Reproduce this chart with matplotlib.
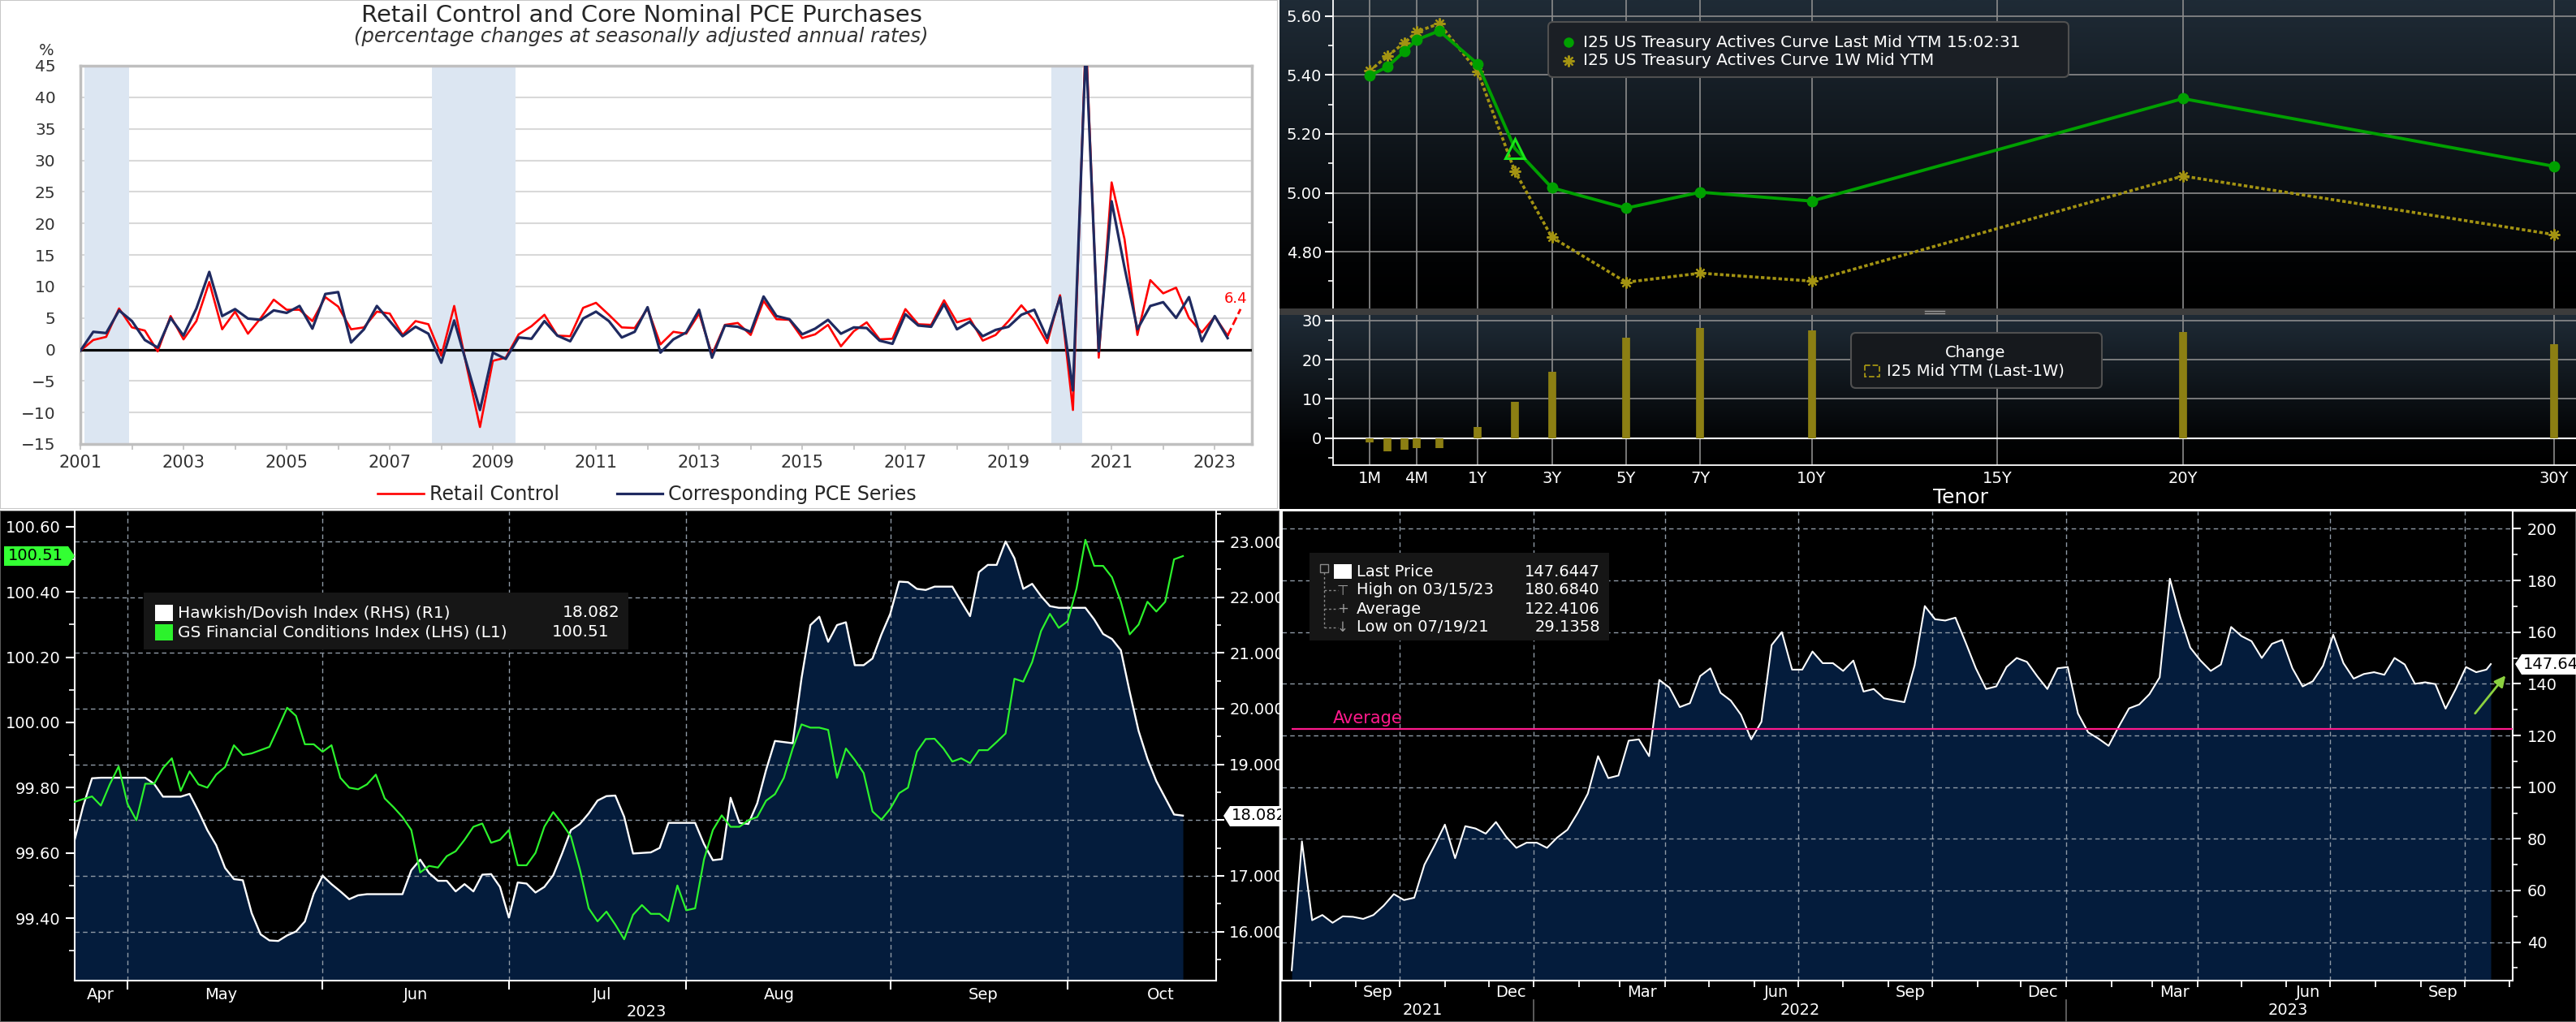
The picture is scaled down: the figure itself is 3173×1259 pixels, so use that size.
import numpy as np
import pandas as pd
import matplotlib
matplotlib.use('Agg')
import matplotlib.pyplot as plt
from matplotlib.patches import Rectangle, FancyBboxPatch, Polygon, FancyArrowPatch
from matplotlib.lines import Line2D
from matplotlib.ticker import MultipleLocator, FixedLocator, FormatStrFormatter, FuncFormatter
from matplotlib.colors import LinearSegmentedColormap
from matplotlib.transforms import Affine2D, blended_transform_factory

plt.rcParams['font.family'] = ['DejaVu Sans']

W, H = 3173, 1259

# ---- retail control vs core nominal PCE, quarterly % saar, 2001Q1..2023Q2
retail_control = [
    -0.2, 1.5, 2.0, 6.5, 3.5, 3.0, -0.3, 5.3, 1.6, 4.5,
    10.7, 3.2, 6.0, 2.5, 5.0, 7.9, 6.3, 6.3, 4.5, 8.3,
    6.8, 3.2, 3.5, 6.0, 5.7, 2.3, 4.5, 4.0, -1.0, 6.9,
    -3.0, -12.3, -1.8, -1.3, 2.4, 3.7, 5.5, 2.2, 2.1, 6.6,
    7.4, 5.5, 3.5, 3.4, 6.5, 0.8, 2.8, 2.5, 5.7, -0.8,
    3.9, 4.2, 2.3, 7.7, 4.8, 4.7, 1.8, 2.4, 3.9, 0.5,
    2.9, 4.3, 1.6, 1.7, 6.4, 4.0, 3.9, 7.8, 4.3, 4.9,
    1.4, 2.3, 4.5, 7.0, 4.6, 1.0, 8.6, -9.6, 50.0, -1.3,
    26.5, 17.5, 2.3, 11.0, 8.9, 9.8, 5.0, 2.7, 5.2, 2.2]
pce_series = [
    -0.2, 2.8, 2.6, 6.2, 4.5, 1.5, 0.3, 5.0, 2.2, 6.5,
    12.3, 5.3, 6.4, 4.9, 4.7, 6.2, 5.8, 6.9, 3.3, 8.8,
    9.1, 1.1, 3.2, 6.9, 4.5, 2.1, 3.6, 2.5, -2.1, 4.6,
    -2.5, -9.6, -0.5, -1.5, 1.9, 1.7, 4.5, 2.2, 1.3, 4.9,
    6.0, 4.5, 1.9, 2.8, 6.7, -0.5, 1.6, 2.7, 6.3, -1.3,
    3.8, 3.6, 2.8, 8.4, 5.3, 4.8, 2.4, 3.3, 4.7, 2.5,
    3.5, 3.4, 1.4, 0.9, 5.6, 3.8, 3.6, 7.2, 3.2, 4.4,
    2.1, 3.1, 3.6, 5.5, 6.3, 1.8, 8.3, -6.5, 48.0, -0.3,
    23.5, 13.0, 3.2, 6.9, 7.5, 5.0, 8.3, 1.3, 5.3, 1.8]
retail_q3_est = 6.4
recessions = [(2001.08, 2001.94), (2007.82, 2009.44), (2019.83, 2020.43)]

# ---- treasury actives curve
tenor_years = [1/12, 2/12, 3/12, 4/12, 6/12, 1, 2, 3, 5, 7, 10, 20, 30]
ytm_last = [5.398, 5.428, 5.480, 5.520, 5.550, 5.438, 5.151, 5.017, 4.948, 5.002, 4.972, 5.320, 5.090]
ytm_1w = [5.414, 5.465, 5.509, 5.547, 5.575, 5.412, 5.074, 4.849, 4.696, 4.727, 4.700, 5.057, 4.858]
change_bp = [-1.1, -3.5, -3.0, -2.5, -2.5, 2.9, 9.2, 17.0, 25.6, 28.2, 27.6, 27.0, 23.9]
tenor_ticks = [1/12, 4/12, 1, 3, 5, 7, 10, 15, 20, 30]
tenor_tick_labels = ['1M', '4M', '1Y', '3Y', '5Y', '7Y', '10Y', '15Y', '20Y', '30Y']
# bloomberg stretches the short end of the tenor axis
tenor_nodes = [0, 1/12, 2/12, 3/12, 4/12, 6/12, 1, 40]
tenor_axis_pos = [-3.2, -1.91, -1.43, -0.98, -0.64, -0.035, 1, 40]

# ---- hawkish/dovish index vs GS FCI, daily 2023-04-21..2023-10-19
hawk_dove = [
    17.62, 18.25, 18.75, 18.76, 18.76, 18.76, 18.76, 18.76, 18.76, 18.65,
    18.42, 18.42, 18.42, 18.47, 18.16, 17.82, 17.55, 17.14, 16.94, 16.92,
    16.33, 15.95, 15.84, 15.83, 15.93, 16.00, 16.18, 16.68, 17.00, 16.85,
    16.72, 16.58, 16.65, 16.67, 16.67, 16.67, 16.67, 16.67, 17.10, 17.29,
    17.05, 16.91, 16.91, 16.72, 16.85, 16.72, 17.02, 17.03, 16.80, 16.25,
    16.88, 16.86, 16.70, 16.80, 17.01, 17.40, 17.82, 17.93, 18.12, 18.35,
    18.43, 18.44, 18.06, 17.40, 17.41, 17.42, 17.50, 17.95, 17.95, 17.95,
    17.95, 17.57, 17.28, 17.30, 18.40, 17.95, 17.93, 18.30, 18.90, 19.42,
    19.40, 19.38, 20.55, 21.50, 21.65, 21.20, 21.50, 21.55, 20.78, 20.78,
    20.90, 21.33, 21.70, 22.28, 22.27, 22.15, 22.13, 22.19, 22.19, 22.19,
    21.92, 21.66, 22.45, 22.58, 22.58, 23.00, 22.70, 22.15, 22.24, 22.02,
    21.84, 21.81, 21.81, 21.81, 21.81, 21.60, 21.34, 21.25, 21.05, 20.30,
    19.60, 19.10, 18.70, 18.40, 18.10, 18.08]
hawk_dove_last = 18.082
gs_fci = [
    99.756, 99.765, 99.773, 99.745, 99.810, 99.865, 99.750, 99.700, 99.812, 99.812,
    99.860, 99.890, 99.790, 99.850, 99.810, 99.800, 99.840, 99.863, 99.930, 99.900,
    99.905, 99.915, 99.925, 99.984, 100.045, 100.020, 99.933, 99.933, 99.910, 99.930,
    99.830, 99.800, 99.795, 99.810, 99.840, 99.767, 99.740, 99.710, 99.670, 99.540,
    99.560, 99.555, 99.590, 99.605, 99.640, 99.680, 99.690, 99.631, 99.640, 99.670,
    99.562, 99.562, 99.600, 99.680, 99.725, 99.690, 99.650, 99.550, 99.430, 99.390,
    99.420, 99.380, 99.335, 99.410, 99.440, 99.413, 99.413, 99.390, 99.500, 99.424,
    99.430, 99.580, 99.670, 99.715, 99.680, 99.680, 99.700, 99.710, 99.760, 99.780,
    99.830, 99.920, 99.994, 99.984, 99.984, 99.977, 99.830, 99.920, 99.885, 99.845,
    99.727, 99.702, 99.735, 99.783, 99.800, 99.910, 99.949, 99.950, 99.920, 99.880,
    99.890, 99.875, 99.915, 99.915, 99.940, 99.966, 100.134, 100.125, 100.185, 100.280,
    100.333, 100.290, 100.310, 100.410, 100.560, 100.480, 100.480, 100.445, 100.370, 100.270,
    100.300, 100.370, 100.340, 100.370, 100.500, 100.510]
market_holidays = ['2023-05-29', '2023-06-19', '2023-07-04', '2023-09-04']

# ---- index level, weekly from 2021-07-19, last print 2023-10-19
idx_level = [
    29.1, 79.0, 48.5, 50.5, 47.5, 50.0, 49.8, 49.0, 50.5, 54.1,
    58.6, 56.3, 57.2, 70.0, 77.5, 85.5, 72.5, 84.9, 84.0, 82.0,
    86.5, 80.8, 76.5, 78.5, 78.5, 76.5, 80.5, 83.5, 90.0, 97.5,
    112.0, 103.5, 104.5, 118.0, 118.5, 112.0, 141.5, 138.5, 131.0, 132.5,
    143.0, 146.0, 136.5, 133.5, 128.0, 118.5, 125.3, 155.0, 160.0, 145.5,
    145.5, 152.5, 148.0, 148.0, 145.0, 149.0, 137.0, 138.0, 134.4, 133.6,
    132.9, 147.1, 170.1, 165.0, 164.5, 165.6, 156.0, 146.0, 138.0, 139.0,
    146.5, 150.0, 148.5, 143.0, 138.0, 146.0, 146.5, 128.5, 121.2, 118.8,
    116.0, 123.5, 130.5, 132.0, 136.0, 142.5, 180.7, 166.0, 154.0, 149.0,
    145.0, 147.5, 162.0, 158.5, 156.5, 150.0, 155.5, 157.0, 146.0, 139.0,
    141.0, 147.0, 159.0, 148.0, 142.0, 143.8, 144.5, 143.5, 150.0, 147.5,
    140.0, 140.6, 139.9, 130.4, 138.0, 146.5, 144.5, 145.5]
idx_last = 147.6447
idx_high = 180.6840
idx_avg = 122.4106
idx_low = 29.1358

fig = plt.figure(figsize=(W / 100, H / 100), dpi=100, facecolor='white')
# pixel coords, origin top-left
PX = Affine2D().scale(0.01, -0.01).translate(0, H / 100) + fig.dpi_scale_trans


def rect(l, t, r, b):
    return [l / W, 1 - b / H, (r - l) / W, (b - t) / H]


def panel(l, t, r, b, color, edge=None):
    a = fig.add_axes(rect(l, t, r, b))
    a.set_axis_off()
    a.add_patch(Rectangle((0, 0), 1, 1, transform=a.transAxes, facecolor=color,
                          edgecolor=edge or color, lw=1.5))
    return a


def ptext(x, y, s, **kw):
    kw.setdefault('va', 'center')
    return fig.text(x, y, s, transform=PX, **kw)


# ================= top left: retail control =================
panel(0, 0, 1574, 627, 'white', edge='#c8c8c8')
ax1 = fig.add_axes(rect(99, 81, 1542, 547))
q = pd.period_range('2001Q1', periods=len(pce_series), freq='Q')
qx = np.asarray(q.year + (q.quarter - 1) / 4.0)

for s, e in recessions:
    ax1.axvspan(s, e, color='#dce6f2', lw=0, zorder=1)
ax1.set_yticks(np.arange(-15, 46, 5))
ax1.grid(axis='y', color='#d9d9d9', lw=1.5)
ax1.set_axisbelow(True)
ax1.axhline(0, color='black', lw=2.3, zorder=3)
ax1.plot(qx, retail_control, color='#ff0000', lw=1.9, zorder=4, label='Retail Control')
ax1.plot(qx, pce_series, color='#1f2a60', lw=2.3, zorder=5, label='Corresponding PCE Series')
ax1.plot([qx[-1], qx[-1] + 0.25], [retail_control[-1], retail_q3_est],
         color='#ff0000', lw=2, ls='--', zorder=4)
ax1.text(qx[-1] + 0.15, retail_q3_est + 1.6, f'{retail_q3_est}', color='#ff0000',
         ha='center', va='center', fontsize=13)
ax1.set_xlim(2001, 2023.72)
ax1.set_ylim(-15, 45)
years = np.arange(2001, 2024)
ax1.set_xticks(years)
ax1.set_xticklabels([str(y) if y % 2 else '' for y in years])
for s in ax1.spines.values():
    s.set_color('#bfbfbf')
    s.set_linewidth(2.5)
ax1.tick_params(axis='x', length=5, width=1.2, color='#bfbfbf', labelsize=15,
                labelcolor='#333333', pad=4)
ax1.tick_params(axis='y', length=0, labelsize=14.5, labelcolor='#333333', pad=22)

ptext(790, 19, 'Retail Control and Core Nominal PCE Purchases', ha='center',
      fontsize=21, color='#262626')
ptext(790, 45, '(percentage changes at seasonally adjusted annual rates)', ha='center',
      fontsize=17.5, style='italic', color='#333333')
ptext(57, 62, '%', ha='center', fontsize=14, color='#333333')
fig.legend(*ax1.get_legend_handles_labels(), loc='center',
           bbox_to_anchor=(797 / W, 1 - 609 / H), ncol=2, frameon=False, fontsize=17,
           handlelength=2.4, handletextpad=0.3, columnspacing=3.0, labelcolor='#262626')

# ================= top right: treasury curve =================
panel(1576, 0, 3173, 627, 'black')
grad = np.linspace(0, 1, 256).reshape(-1, 1)
bb_cmap = LinearSegmentedColormap.from_list(
    'bb', [(0, '#000000'), (0.15, '#020304'), (1, '#1f2b36')])
for t, b in [(0, 380), (388, 573)]:
    g = fig.add_axes(rect(1576, t, 3173, b))
    g.set_axis_off()
    g.imshow(grad, cmap=bb_cmap, origin='lower', extent=(0, 1, 0, 1), aspect='auto')


def tenor_fwd(t):
    return np.interp(t, tenor_nodes, tenor_axis_pos)


def tenor_inv(p):
    return np.interp(p, tenor_axis_pos, tenor_nodes)


axu = fig.add_axes(rect(1642, 0, 3173, 380))
axl = fig.add_axes(rect(1642, 388, 3173, 573))
for a in (axu, axl):
    a.set_facecolor('none')
    a.set_xscale('function', functions=(tenor_fwd, tenor_inv))
    a.set_xlim(0.0197, 30.59)
    a.set_xticks(tenor_ticks)
    a.grid(True, which='major', color='#8c8c8c', lw=1.2)
    for k in ('top', 'right'):
        a.spines[k].set_visible(False)
    a.spines['left'].set_color('white')
    a.spines['left'].set_linewidth(1.3)
    a.tick_params(axis='y', which='major', colors='white', labelsize=14, length=7,
                  width=1.5, pad=3)
    a.tick_params(axis='y', which='minor', colors='white', length=4, width=1.2)

axu.spines['bottom'].set_visible(False)
axu.plot(tenor_years, ytm_1w, color='#a39312', ls=(0, (1.2, 0.8)), lw=2.6,
         marker=(8, 2, 0), ms=10, mew=1.6, zorder=3)
axu.plot(tenor_years, ytm_last, color='#00a000', lw=2.8, zorder=4)
axu.plot(tenor_years, ytm_last, ls='none', marker='o', ms=9, color='#00a000',
         markevery=[i for i in range(len(tenor_years)) if tenor_years[i] != 2], zorder=5)
axu.plot([2], [ytm_last[tenor_years.index(2)]], ls='none', marker='^', ms=17,
         mfc='none', mec='#19e619', mew=2.2, zorder=6)
axu.set_ylim(4.607, 5.655)
axu.yaxis.set_major_locator(FixedLocator([4.8, 5.0, 5.2, 5.4, 5.6]))
axu.yaxis.set_minor_locator(MultipleLocator(0.1))
axu.yaxis.set_major_formatter(FormatStrFormatter('%.2f'))
axu.tick_params(axis='x', length=0, labelbottom=False)

axl.vlines(tenor_years, 0, change_bp, color='#8c7f13', lw=7, zorder=3)
axl.axhline(0, color='white', lw=1.5, zorder=2)
axl.set_ylim(-6.95, 31.45)
axl.yaxis.set_major_locator(FixedLocator([0, 10, 20, 30]))
axl.yaxis.set_minor_locator(MultipleLocator(5))
axl.yaxis.set_major_formatter(FormatStrFormatter('%d'))
axl.set_xticklabels(tenor_tick_labels)
axl.spines['bottom'].set_color('white')
axl.spines['bottom'].set_linewidth(1.3)
axl.tick_params(axis='x', length=0, labelsize=14, colors='white', pad=5)
axl.tick_params(axis='x', which='minor', length=0)

fig.add_artist(Rectangle((1576, 380), 1597, 8, transform=PX, facecolor='#3c3c3c', lw=0))
for yy in (383, 385.5):
    fig.add_artist(Line2D([2371, 2395], [yy, yy], transform=PX, color='#9a9a9a', lw=1))
ptext(2415, 613, 'Tenor', ha='center', fontsize=18, color='white')

fig.add_artist(FancyBboxPatch((1907, 27), 641, 68, boxstyle='round,pad=0,rounding_size=6',
                              transform=PX, facecolor='#1b1f25', edgecolor='#505050', lw=1.5))
fig.add_artist(Line2D([1932], [52], transform=PX, marker='o', ms=8, color='#00a000'))
fig.add_artist(Line2D([1932], [75], transform=PX, marker=(8, 2, 0), ms=10, mew=1.6,
                      color='#a39312'))
ptext(1950, 52, 'I25 US Treasury Actives Curve Last Mid YTM 15:02:31', fontsize=14.5,
      color='white')
ptext(1950, 75, 'I25 US Treasury Actives Curve 1W Mid YTM', fontsize=14.5, color='white')

fig.add_artist(FancyBboxPatch((2280, 410), 309, 68, boxstyle='round,pad=0,rounding_size=6',
                              transform=PX, facecolor='#16191d', edgecolor='#505050', lw=1.5))
ptext(2433, 434, 'Change', ha='center', fontsize=14, color='white')
fig.add_artist(Rectangle((2297, 450), 18, 14, transform=PX, facecolor='none',
                         edgecolor='#a39312', ls='--', lw=1.3))
ptext(2324, 457, 'I25 Mid YTM (Last-1W)', fontsize=14, color='white')

# ================= bottom left: hawkish/dovish vs FCI =================
panel(0, 629, 1575.5, 1259, 'black', edge='#5a5a5a')
bdays = pd.bdate_range('2023-04-21', '2023-10-19', freq='C', holidays=market_holidays)
xi = np.arange(len(bdays))
ax_r = fig.add_axes(rect(91.5, 630, 1497.5, 1207.5))
ax_r.set_facecolor('black')
ax_l = ax_r.twinx()
ax_r.yaxis.tick_right()
ax_l.yaxis.tick_left()

ax_r.set_ylim(15.126, 23.54)
ax_l.set_ylim(99.2096, 100.647)
ax_r.fill_between(xi, hawk_dove, ax_r.get_ylim()[0], color='#041c3c', lw=0, zorder=1)
ax_r.plot(xi, hawk_dove, color='white', lw=1.7, zorder=3)
ax_l.plot(xi, gs_fci, color='#2cf22c', lw=1.6)
ax_r.set_xlim(0, 128.7)

months = bdays.month
starts = [i for i in range(1, len(bdays)) if months[i] != months[i - 1]]
bounds = [0] + starts + [len(bdays)]
lab_pos, lab_txt = [], []
for a, b in zip(bounds[:-1], bounds[1:]):
    lab_pos.append(b - 3 if a == 0 else a + 10.5)
    lab_txt.append(bdays[a].strftime('%b'))
ax_r.set_xticks(starts)
ax_r.set_xticks(lab_pos, minor=True)
ax_r.set_xticklabels(lab_txt, minor=True)
ax_r.tick_params(axis='x', which='major', length=8, width=1.5, color='white',
                 labelbottom=False)
ax_r.tick_params(axis='x', which='minor', length=0, labelsize=14, labelcolor='white', pad=6)

ax_r.yaxis.set_major_locator(MultipleLocator(1))
ax_r.yaxis.set_minor_locator(MultipleLocator(0.5))
# the last-value tag sits on top of the 18 label, so that one is left blank
ax_r.yaxis.set_major_formatter(FuncFormatter(
    lambda v, p: '' if abs(v - hawk_dove_last) < 0.3 else f'{v:.3f}'))
ax_l.yaxis.set_major_locator(MultipleLocator(0.2))
ax_l.yaxis.set_minor_locator(MultipleLocator(0.1))
ax_l.yaxis.set_major_formatter(FormatStrFormatter('%.2f'))
for a in (ax_r, ax_l):
    a.tick_params(axis='y', which='major', colors='white', labelsize=14, length=7,
                  width=1.5, pad=5)
    a.tick_params(axis='y', which='minor', colors='white', length=4, width=1.2)
ax_r.grid(True, which='major', color='#8f9aa6', lw=1.0, ls=(0, (4, 3)))
for k, s in ax_r.spines.items():
    s.set_color('white')
    s.set_linewidth(1.5)
    s.set_visible(k != 'top')
for s in ax_l.spines.values():
    s.set_visible(False)
ptext(796, 1246, '2023', ha='center', fontsize=14, color='white')

# legend
fig.add_artist(Rectangle((177, 730), 597, 70, transform=PX, facecolor='#161616', lw=0))
fig.add_artist(Rectangle((191, 745), 22, 20, transform=PX, facecolor='white', lw=0))
fig.add_artist(Rectangle((191, 769), 22, 20, transform=PX, facecolor='#2cf22c', lw=0))
ptext(219, 755, 'Hawkish/Dovish Index (RHS) (R1)', fontsize=14.5, color='white')
ptext(219, 779, 'GS Financial Conditions Index (LHS) (L1)', fontsize=14.5, color='white')
ptext(764, 755, f'{hawk_dove_last:.3f}', ha='right', fontsize=14.5, color='white')
ptext(750, 779, f'{gs_fci[-1]:.2f}', ha='right', fontsize=14.5, color='white')

# value tags
fig.add_artist(Polygon([(5, 673), (84, 673), (92, 685), (84, 697), (5, 697)], closed=True,
                       transform=PX, facecolor='#33ff33', lw=0))
ptext(44, 685, f'{gs_fci[-1]:.2f}', ha='center', fontsize=14, color='black')
tag = Polygon([(1507, 1005), (1515, 993), (1585, 993), (1585, 1018), (1515, 1018)],
              closed=True, transform=PX, facecolor='white', lw=0, clip_on=False, zorder=6)
ax_r.add_patch(tag)
ax_r.text(1517, 1005, f'{hawk_dove_last:.3f}', transform=PX, fontsize=14, color='black',
          va='center', clip_on=False, zorder=7)

# ================= bottom right: index level =================
panel(1577.5, 629.5, 3173, 1259, 'black', edge='#5a5a5a')
axb = fig.add_axes(rect(1578.5, 629.5, 3095, 1207.5))
axb.set_facecolor('black')
wdates = pd.date_range('2021-07-19', periods=len(idx_level), freq='7D').append(
    pd.DatetimeIndex(['2023-10-19']))
wvals = idx_level + [idx_last]
axb.set_ylim(25.27, 206.9)
x0, x1 = pd.Timestamp('2021-07-12'), pd.Timestamp('2023-11-03')
axb.set_xlim(x0, x1)
axb.fill_between(wdates, wvals, axb.get_ylim()[0], color='#041c3c', lw=0, zorder=1)
axb.plot(wdates, wvals, color='white', lw=1.5, zorder=3)
axb.hlines(idx_avg, wdates[0], x1, color='#ff1a8c', lw=1.6, zorder=4)

qstarts = pd.date_range('2021-10-01', '2023-10-01', freq='QS')
mstarts = pd.date_range('2021-08-01', '2023-11-01', freq='MS')
axb.set_xticks(qstarts)
axb.set_xticks(mstarts, minor=True)
axb.tick_params(axis='x', which='both', length=6, width=1.3, color='white',
                labelbottom=False)
axb.yaxis.tick_right()
axb.yaxis.set_major_locator(MultipleLocator(20))
axb.yaxis.set_minor_locator(MultipleLocator(10))
axb.yaxis.set_major_formatter(FormatStrFormatter('%d'))
axb.tick_params(axis='y', which='major', colors='white', labelsize=14, length=7,
                width=1.5, pad=6)
axb.tick_params(axis='y', which='minor', colors='white', length=4, width=1.2)
axb.grid(True, which='major', color='#8f9aa6', lw=1.0, ls=(0, (4, 3)))
for k, s in axb.spines.items():
    s.set_color('white')
    s.set_linewidth(1.5)
    s.set_visible(k != 'top')

bx = blended_transform_factory(axb.transData, PX)
for d in pd.date_range('2021-09-01', '2023-09-01', freq='QS-SEP'):
    axb.text(d + pd.Timedelta(days=15), 1223, d.strftime('%b'), transform=bx,
             ha='center', va='center', fontsize=14, color='white', clip_on=False)
for yr in (2021, 2022, 2023):
    a = max(pd.Timestamp(f'{yr}-01-01'), mstarts[0])
    b = min(pd.Timestamp(f'{yr + 1}-01-01'), mstarts[-1])
    axb.text(a + (b - a) / 2, 1245, str(yr), transform=bx, ha='center', va='center',
             fontsize=14, color='white', clip_on=False)
    if yr > 2021:
        axb.add_line(Line2D([pd.Timestamp(f'{yr}-01-01')] * 2, [1232, 1259], transform=bx,
                            color='#6a6a6a', lw=1.2, clip_on=False))

ptext(1642, 885, 'Average', fontsize=15, color='#ff1a8c')

# legend
fig.add_artist(Rectangle((1613, 681), 369, 108, transform=PX, facecolor='#161616', lw=0))
fig.add_artist(Rectangle((1626, 695), 10, 10, transform=PX, facecolor='none',
                         edgecolor='#8a8a8a', lw=1))
fig.add_artist(Line2D([1631, 1631], [705, 773], transform=PX, color='#8a8a8a', lw=1,
                      ls=(0, (2, 2))))
fig.add_artist(Rectangle((1643, 695), 22, 18, transform=PX, facecolor='white', lw=0))
for yy, sym in [(727, '\u22a4'), (750, '+'), (773, '\u2193')]:
    fig.add_artist(Line2D([1631, 1648], [yy, yy], transform=PX, color='#8a8a8a', lw=1,
                          ls=(0, (2, 2))))
    ptext(1654, yy, sym, ha='center', fontsize=12, color='#9a9a9a')
rows = [('Last Price', f'{idx_last:.4f}'), ('High on 03/15/23', f'{idx_high:.4f}'),
        ('Average', f'{idx_avg:.4f}'), ('Low on 07/19/21', f'{idx_low:.4f}')]
for yy, (lab, val) in zip([704, 727, 750, 773], rows):
    ptext(1671, yy, lab, fontsize=14, color='white')
    ptext(1971, yy, val, ha='right', fontsize=14, color='white')

# last-price tag runs off the right edge, as in the terminal screenshot
fig.add_artist(Polygon([(3098, 818), (3106, 806), (3180, 806), (3180, 831), (3106, 831)],
                       closed=True, transform=PX, facecolor='white', lw=0))
ptext(3108, 818, f'{idx_last:.2f}', fontsize=14, color='black')
fig.add_artist(FancyArrowPatch((3047, 881), (3088, 830), transform=PX, arrowstyle='-|>',
                               mutation_scale=20, color='#8cd13f', lw=2))

fig.savefig('out.png', dpi=100, facecolor=fig.get_facecolor())
